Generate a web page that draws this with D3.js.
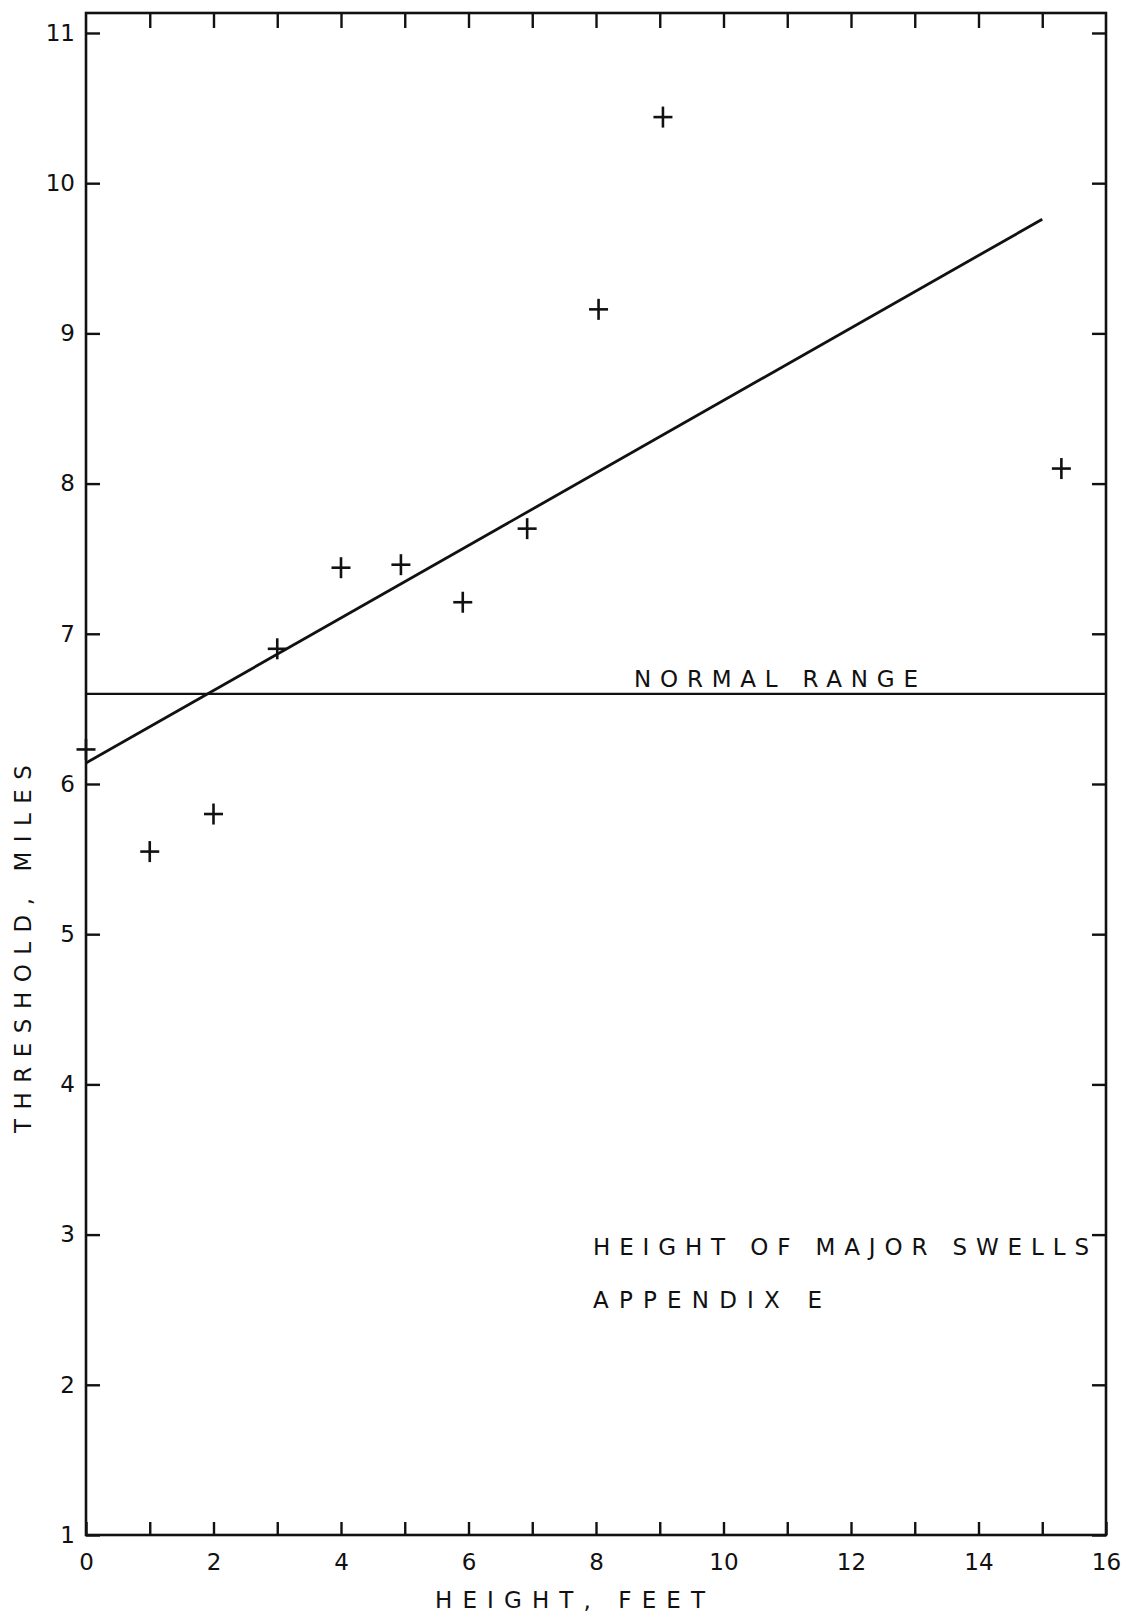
<!DOCTYPE html>
<html>
<head>
<meta charset="utf-8">
<script src="https://cdn.jsdelivr.net/npm/d3@7"></script>
<style>
  html, body { margin: 0; padding: 0; background: #fff; }
  svg { display: block; }
  text { font-family: "DejaVu Sans", "Liberation Sans", sans-serif; fill: #111; }
</style>
</head>
<body>
<svg id="chart" width="1126" height="1622"></svg>
<script>
// Wave height vs. detection threshold
const heightFeet     = [0, 1, 2, 3, 4, 4.94, 5.91, 6.92, 8.04, 9.05, 15.3];
const thresholdMiles = [6.23, 5.55, 5.80, 6.90, 7.44, 7.46, 7.21, 7.70, 9.16, 10.44, 8.10];

// Fitted trend line end points
const fitX = [0, 15];
const fitY = [6.14, 9.76];

// Upper limit of the normal range
const normalRange = 6.60;

// Tick values and labels
const xTicks = d3.range(0, 17);
const yTicks = d3.range(1, 12);
const xTickLabels = ["0", "", "2", "", "4", "", "6", "", "8", "", "10", "", "12", "", "14", "", "16"];

const svg = d3.select("#chart");
const ink = "#111";

const x = d3.scaleLinear().domain([0, 16]).range([86, 1106]);
const y = d3.scaleLinear().domain([1, 11.133]).range([1535, 13]);

const frameTop = y(11.133), frameBottom = y(1), frameLeft = x(0), frameRight = x(16);

// Axes (ticks point inward on every side)
const axisL = svg.append("g").attr("transform", `translate(${frameLeft},0)`)
  .call(d3.axisLeft(y).tickValues(yTicks).tickSize(-14).tickPadding(11).tickFormat(d3.format("d")));
const axisB = svg.append("g").attr("transform", `translate(0,${frameBottom})`)
  .call(d3.axisBottom(x).tickValues(xTicks).tickSize(-13).tickPadding(19).tickFormat((d, i) => xTickLabels[i]));
const axisT = svg.append("g").attr("transform", `translate(0,${frameTop})`)
  .call(d3.axisTop(x).tickValues(xTicks.slice(1, -1)).tickSize(-15).tickFormat(""));
const axisR = svg.append("g").attr("transform", `translate(${frameRight},0)`)
  .call(d3.axisRight(y).tickValues(yTicks).tickSize(-14).tickFormat(""));

[axisL, axisB, axisT, axisR].forEach(g => {
  g.select(".domain").remove();
  g.selectAll(".tick line").attr("stroke", ink).attr("stroke-width", 2.4);
  g.selectAll(".tick text").attr("font-size", 23).attr("fill", ink)
    .style("font-family", '"DejaVu Sans", sans-serif');
});

// Frame
svg.append("rect")
  .attr("x", frameLeft).attr("y", frameTop)
  .attr("width", frameRight - frameLeft).attr("height", frameBottom - frameTop)
  .attr("fill", "none").attr("stroke", ink).attr("stroke-width", 2.6);

// Normal range line
svg.append("line")
  .attr("x1", frameLeft).attr("x2", frameRight)
  .attr("y1", y(normalRange)).attr("y2", y(normalRange))
  .attr("stroke", ink).attr("stroke-width", 2.2);

// Trend line
svg.append("path")
  .datum(fitX.map((d, i) => [d, fitY[i]]))
  .attr("d", d3.line().x(d => x(d[0])).y(d => y(d[1])))
  .attr("fill", "none").attr("stroke", ink).attr("stroke-width", 2.8);

// Observations drawn as plus marks
const pts = heightFeet.map((d, i) => ({ h: d, t: thresholdMiles[i] }));
const marks = svg.append("g").selectAll("g").data(pts).join("g")
  .attr("transform", d => `translate(${x(d.h)},${y(d.t)})`);
marks.append("line").attr("x1", -9.5).attr("x2", 9.5).attr("y1", 0).attr("y2", 0)
  .attr("stroke", ink).attr("stroke-width", 2.6);
marks.append("line").attr("x1", 0).attr("x2", 0).attr("y1", -10.5).attr("y2", 10.5)
  .attr("stroke", ink).attr("stroke-width", 2.6);

// Lettering
function letter(txt, x0, baseline, length, size) {
  return svg.append("text")
    .attr("x", x0).attr("y", baseline)
    .attr("font-size", size)
    .attr("textLength", length).attr("lengthAdjust", "spacing")
    .text(txt);
}
letter("NORMAL  RANGE", 634, 687, 284, 23);
letter("HEIGHT  OF  MAJOR  SWELLS", 593, 1255, 496, 23);
letter("APPENDIX  E", 593, 1308, 229, 23);
letter("HEIGHT,  FEET", 435, 1608, 270, 23);

svg.append("text")
  .attr("transform", "translate(31,1133) rotate(-90)")
  .attr("font-size", 23)
  .attr("textLength", 368).attr("lengthAdjust", "spacing")
  .text("THRESHOLD,  MILES");
</script>
</body>
</html>
